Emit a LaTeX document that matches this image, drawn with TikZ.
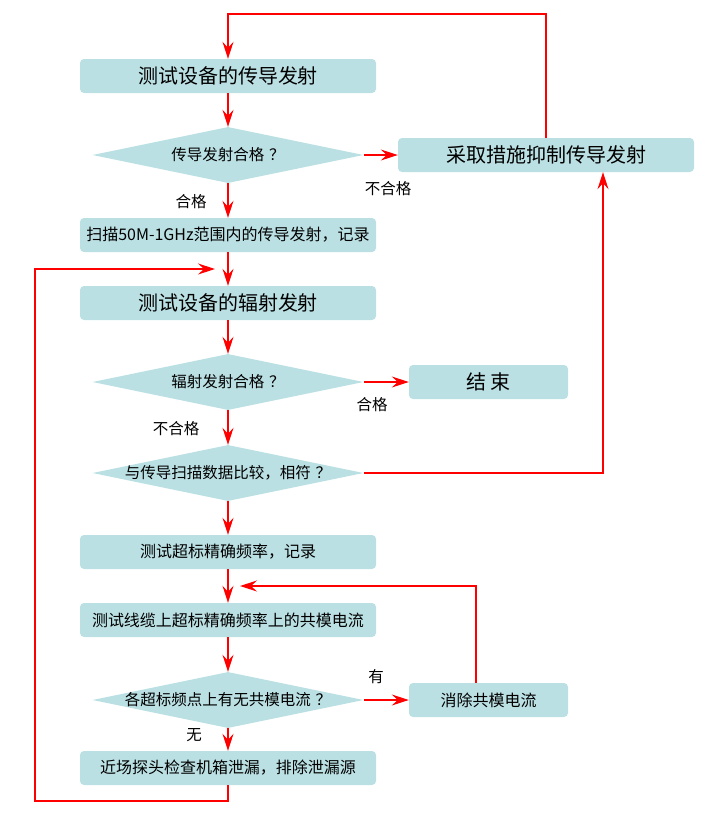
\documentclass[tikz,border=0pt]{standalone}
\usepackage{fontspec}
\setmainfont{Noto Sans CJK SC}
\usetikzlibrary{arrows.meta,shapes.geometric}
\definecolor{boxfill}{RGB}{187,224,227}
\newcommand{\qm}{\hspace{0.3em}？}
\begin{document}
\begin{tikzpicture}[x=1pt,y=-1pt,
  box/.style={fill=boxfill, rounded corners=4pt, minimum height=34pt, inner sep=0pt, text=black},
  wide/.style={box, minimum width=296pt},
  narrow/.style={box, minimum width=159pt},
  big/.style={font=\fontsize{20}{22}\selectfont},
  small/.style={font=\fontsize{16}{18}\selectfont},
  dia/.style={diamond, fill=boxfill, minimum width=271pt, minimum height=56pt, inner sep=0pt, text=black, font=\fontsize{15.5}{18}\selectfont},
  arr/.style={draw=red, line width=1.2pt, -{Stealth[length=17pt,width=11pt,inset=6pt]}},
  lab/.style={font=\fontsize{15.5}{18}\selectfont, inner sep=0pt, text=black}]
\useasboundingbox (0,0) rectangle (717,815);
% nodes
\node[wide,big]   (b1) at (228,76)  {测试设备的传导发射};
\node[dia]        (d1) at (228,155) {\makebox[0pt]{传导发射合格\qm}};
\node[wide,big]   (r1) at (546,155) {采取措施抑制传导发射};
\node[wide,small] (b2) at (228,235) {扫描50M-1GHz范围内的传导发射，记录};
\node[wide,big]   (b3) at (228,303) {测试设备的辐射发射};
\node[dia]        (d2) at (228,382) {\makebox[0pt]{辐射发射合格\qm}};
\node[narrow,big] (en) at (488.5,382) {结 束};
\node[dia]        (d3) at (228,473) {\makebox[0pt]{与传导扫描数据比较，相符\qm}};
\node[wide,small] (b4) at (228,552) {测试超标精确频率，记录};
\node[wide,small] (b5) at (228,620) {测试线缆上超标精确频率上的共模电流};
\node[dia]        (d4) at (228,700) {\makebox[0pt]{各超标频点上有无共模电流\qm}};
\node[narrow,small] (r2) at (488.5,700) {消除共模电流};
\node[wide,small] (b6) at (228,768) {近场探头检查机箱泄漏，排除泄漏源};
% labels
\node[lab] (l1) at (388,189) {不合格};
\node[lab] (l2) at (191,202) {合格};
\node[lab] (l3) at (372,405) {合格};
\node[lab] (l4) at (176,429) {不合格};
\node[lab] (l5) at (376,677) {有};
\node[lab] (l6) at (194,735) {无};
% coordinates
\coordinate (top) at (228,14);
\coordinate (lb) at (35,801);
\coordinate (lt) at (35,269);
\coordinate (lin) at (215,269);
\coordinate (rj) at (603,473);
\coordinate (lp) at (476,586);
\coordinate (lpin) at (240,586);
% connectors
\draw[arr] (r1.north) |- (top) -- (b1.north);
\draw[arr] (b1.south) -- (d1.north);
\draw[arr] (d1.east) -- (r1.west);
\draw[arr] (d1.south) -- (b2.north);
\draw[arr] (b2.south) -- (b3.north);
\draw[arr] (b6.south) |- (lb) -- (lt) -- (lin);
\draw[arr] (b3.south) -- (d2.north);
\draw[arr] (d2.east) -- (en.west);
\draw[arr] (d2.south) -- (d3.north);
\draw[arr] (d3.east) -- (rj) -- (rj |- r1.south);
\draw[arr] (d3.south) -- (b4.north);
\draw[arr] (b4.south) -- (b5.north);
\draw[arr] (lp |- r2.north) -- (lp) -- (lpin);
\draw[arr] (b5.south) -- (d4.north);
\draw[arr] (d4.east) -- (r2.west);
\draw[arr] (d4.south) -- (b6.north);
\end{tikzpicture}
\end{document}
